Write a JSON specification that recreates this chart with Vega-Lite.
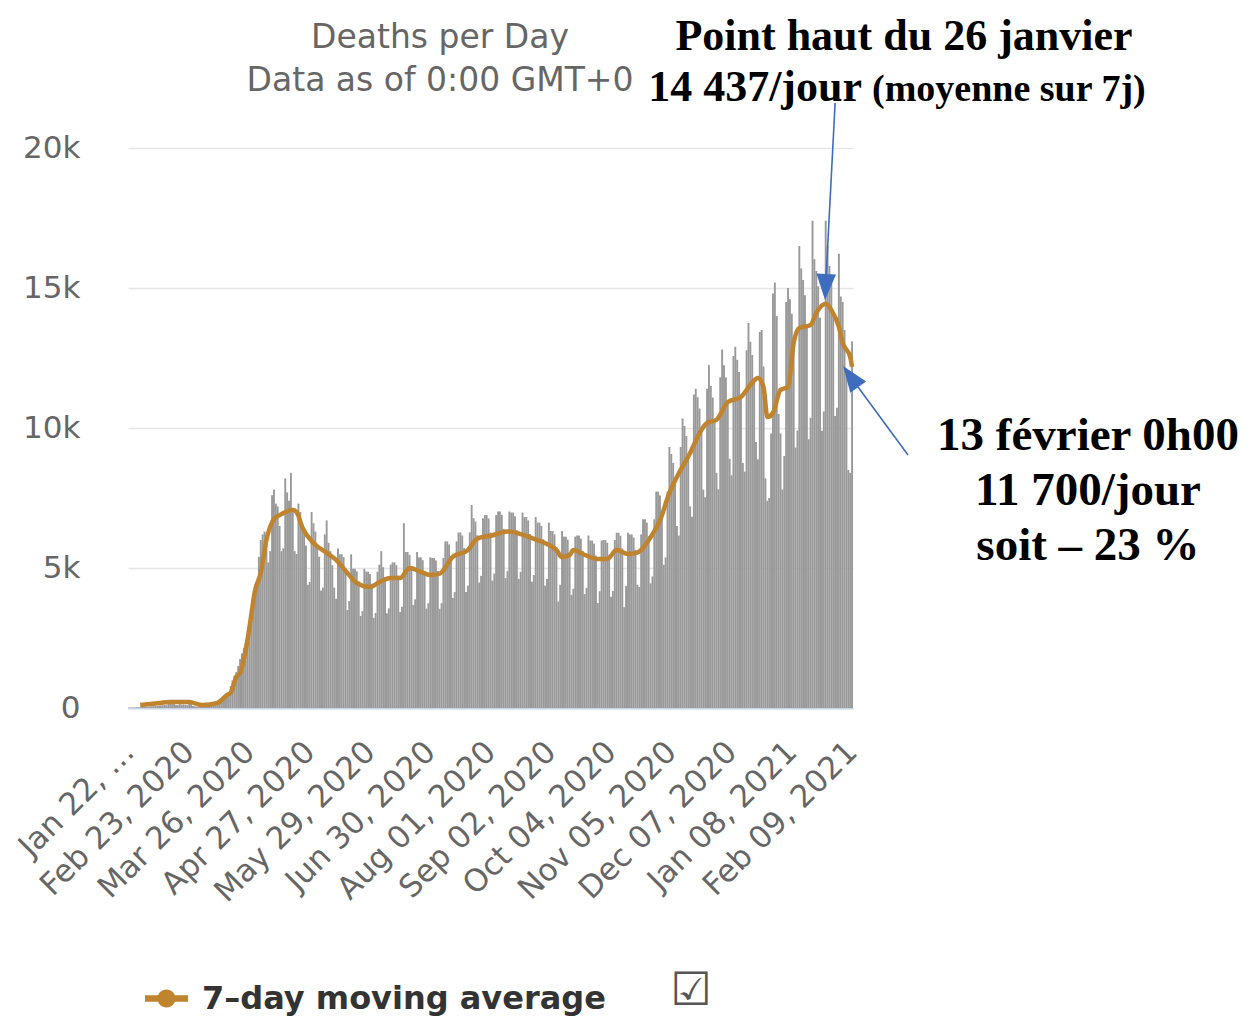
{
  "$schema": "https://vega.github.io/schema/vega-lite/v6.json",
  "width": 725,
  "height": 560,
  "autosize": {"type": "none"},
  "padding": {"left": 128, "top": 148, "right": 394, "bottom": 309},
  "background": "white",
  "datasets": {
    "daily": [
      {"date":"2020-01-22","deaths":17},{"date":"2020-01-23","deaths":8},{"date":"2020-01-24","deaths":16},{"date":"2020-01-25","deaths":14},{"date":"2020-01-26","deaths":26},{"date":"2020-01-27","deaths":26},{"date":"2020-01-28","deaths":26},{"date":"2020-01-29","deaths":38},{"date":"2020-01-30","deaths":43},{"date":"2020-01-31","deaths":46},
      {"date":"2020-02-01","deaths":45},{"date":"2020-02-02","deaths":57},{"date":"2020-02-03","deaths":64},{"date":"2020-02-04","deaths":66},{"date":"2020-02-05","deaths":73},{"date":"2020-02-06","deaths":73},{"date":"2020-02-07","deaths":86},{"date":"2020-02-08","deaths":89},{"date":"2020-02-09","deaths":97},{"date":"2020-02-10","deaths":108},{"date":"2020-02-11","deaths":97},{"date":"2020-02-12","deaths":254},{"date":"2020-02-13","deaths":143},{"date":"2020-02-14","deaths":143},{"date":"2020-02-15","deaths":142},{"date":"2020-02-16","deaths":106},{"date":"2020-02-17","deaths":98},{"date":"2020-02-18","deaths":139},{"date":"2020-02-19","deaths":115},{"date":"2020-02-20","deaths":125},{"date":"2020-02-21","deaths":112},{"date":"2020-02-22","deaths":99},{"date":"2020-02-23","deaths":160},{"date":"2020-02-24","deaths":152},{"date":"2020-02-25","deaths":71},{"date":"2020-02-26","deaths":62},{"date":"2020-02-27","deaths":44},{"date":"2020-02-28","deaths":57},{"date":"2020-02-29","deaths":65},
      {"date":"2020-03-01","deaths":52},{"date":"2020-03-02","deaths":51},{"date":"2020-03-03","deaths":78},{"date":"2020-03-04","deaths":110},{"date":"2020-03-05","deaths":120},{"date":"2020-03-06","deaths":140},{"date":"2020-03-07","deaths":150},{"date":"2020-03-08","deaths":170},{"date":"2020-03-09","deaths":200},{"date":"2020-03-10","deaths":280},{"date":"2020-03-11","deaths":340},{"date":"2020-03-12","deaths":380},{"date":"2020-03-13","deaths":430},{"date":"2020-03-14","deaths":500},{"date":"2020-03-15","deaths":560},{"date":"2020-03-16","deaths":780},{"date":"2020-03-17","deaths":980},{"date":"2020-03-18","deaths":1150},{"date":"2020-03-19","deaths":1280},{"date":"2020-03-20","deaths":1500},{"date":"2020-03-21","deaths":1750},{"date":"2020-03-22","deaths":1950},{"date":"2020-03-23","deaths":2150},{"date":"2020-03-24","deaths":2300},{"date":"2020-03-25","deaths":2600},{"date":"2020-03-26","deaths":2900},{"date":"2020-03-27","deaths":3300},{"date":"2020-03-28","deaths":3800},{"date":"2020-03-29","deaths":4000},{"date":"2020-03-30","deaths":4300},{"date":"2020-03-31","deaths":5400},
      {"date":"2020-04-01","deaths":6000},{"date":"2020-04-02","deaths":6200},{"date":"2020-04-03","deaths":6300},{"date":"2020-04-04","deaths":6200},{"date":"2020-04-05","deaths":5200},{"date":"2020-04-06","deaths":5600},{"date":"2020-04-07","deaths":7600},{"date":"2020-04-08","deaths":7800},{"date":"2020-04-09","deaths":7300},{"date":"2020-04-10","deaths":7200},{"date":"2020-04-11","deaths":6500},{"date":"2020-04-12","deaths":5600},{"date":"2020-04-13","deaths":5700},{"date":"2020-04-14","deaths":8200},{"date":"2020-04-15","deaths":7700},{"date":"2020-04-16","deaths":7400},{"date":"2020-04-17","deaths":8400},{"date":"2020-04-18","deaths":7000},{"date":"2020-04-19","deaths":5600},{"date":"2020-04-20","deaths":5500},{"date":"2020-04-21","deaths":7300},{"date":"2020-04-22","deaths":7000},{"date":"2020-04-23","deaths":6600},{"date":"2020-04-24","deaths":6300},{"date":"2020-04-25","deaths":5800},{"date":"2020-04-26","deaths":4400},{"date":"2020-04-27","deaths":4500},{"date":"2020-04-28","deaths":7000},{"date":"2020-04-29","deaths":6600},{"date":"2020-04-30","deaths":6300},
      {"date":"2020-05-01","deaths":5800},{"date":"2020-05-02","deaths":5400},{"date":"2020-05-03","deaths":4200},{"date":"2020-05-04","deaths":4300},{"date":"2020-05-05","deaths":6200},{"date":"2020-05-06","deaths":6700},{"date":"2020-05-07","deaths":5900},{"date":"2020-05-08","deaths":5600},{"date":"2020-05-09","deaths":5100},{"date":"2020-05-10","deaths":4300},{"date":"2020-05-11","deaths":3900},{"date":"2020-05-12","deaths":5700},{"date":"2020-05-13","deaths":5490},{"date":"2020-05-14","deaths":5490},{"date":"2020-05-15","deaths":5390},{"date":"2020-05-16","deaths":5000},{"date":"2020-05-17","deaths":3500},{"date":"2020-05-18","deaths":3820},{"date":"2020-05-19","deaths":5490},{"date":"2020-05-20","deaths":4970},{"date":"2020-05-21","deaths":4970},{"date":"2020-05-22","deaths":4880},{"date":"2020-05-23","deaths":4530},{"date":"2020-05-24","deaths":3290},{"date":"2020-05-25","deaths":3460},{"date":"2020-05-26","deaths":4970},{"date":"2020-05-27","deaths":4870},{"date":"2020-05-28","deaths":4870},{"date":"2020-05-29","deaths":4790},{"date":"2020-05-30","deaths":4440},{"date":"2020-05-31","deaths":3220},
      {"date":"2020-06-01","deaths":3390},{"date":"2020-06-02","deaths":4870},{"date":"2020-06-03","deaths":5120},{"date":"2020-06-04","deaths":5600},{"date":"2020-06-05","deaths":5030},{"date":"2020-06-06","deaths":4660},{"date":"2020-06-07","deaths":3380},{"date":"2020-06-08","deaths":3560},{"date":"2020-06-09","deaths":5120},{"date":"2020-06-10","deaths":5200},{"date":"2020-06-11","deaths":5200},{"date":"2020-06-12","deaths":5100},{"date":"2020-06-13","deaths":4730},{"date":"2020-06-14","deaths":3430},{"date":"2020-06-15","deaths":3620},{"date":"2020-06-16","deaths":6600},{"date":"2020-06-17","deaths":5570},{"date":"2020-06-18","deaths":5570},{"date":"2020-06-19","deaths":5470},{"date":"2020-06-20","deaths":5070},{"date":"2020-06-21","deaths":3680},{"date":"2020-06-22","deaths":3880},{"date":"2020-06-23","deaths":5570},{"date":"2020-06-24","deaths":5380},{"date":"2020-06-25","deaths":5380},{"date":"2020-06-26","deaths":5280},{"date":"2020-06-27","deaths":4900},{"date":"2020-06-28","deaths":3550},{"date":"2020-06-29","deaths":3740},{"date":"2020-06-30","deaths":5380},
      {"date":"2020-07-01","deaths":5360},{"date":"2020-07-02","deaths":5360},{"date":"2020-07-03","deaths":5270},{"date":"2020-07-04","deaths":4890},{"date":"2020-07-05","deaths":3540},{"date":"2020-07-06","deaths":3740},{"date":"2020-07-07","deaths":5360},{"date":"2020-07-08","deaths":5950},{"date":"2020-07-09","deaths":5950},{"date":"2020-07-10","deaths":5840},{"date":"2020-07-11","deaths":5420},{"date":"2020-07-12","deaths":3930},{"date":"2020-07-13","deaths":4140},{"date":"2020-07-14","deaths":5950},{"date":"2020-07-15","deaths":6270},{"date":"2020-07-16","deaths":6270},{"date":"2020-07-17","deaths":6160},{"date":"2020-07-18","deaths":5710},{"date":"2020-07-19","deaths":4140},{"date":"2020-07-20","deaths":4370},{"date":"2020-07-21","deaths":6270},{"date":"2020-07-22","deaths":7250},{"date":"2020-07-23","deaths":6780},{"date":"2020-07-24","deaths":6660},{"date":"2020-07-25","deaths":6170},{"date":"2020-07-26","deaths":4480},{"date":"2020-07-27","deaths":4720},{"date":"2020-07-28","deaths":6780},{"date":"2020-07-29","deaths":6890},{"date":"2020-07-30","deaths":6890},{"date":"2020-07-31","deaths":6770},
      {"date":"2020-08-01","deaths":6270},{"date":"2020-08-02","deaths":4550},{"date":"2020-08-03","deaths":4800},{"date":"2020-08-04","deaths":6890},{"date":"2020-08-05","deaths":7020},{"date":"2020-08-06","deaths":7020},{"date":"2020-08-07","deaths":6900},{"date":"2020-08-08","deaths":6400},{"date":"2020-08-09","deaths":4640},{"date":"2020-08-10","deaths":4890},{"date":"2020-08-11","deaths":7020},{"date":"2020-08-12","deaths":6980},{"date":"2020-08-13","deaths":6980},{"date":"2020-08-14","deaths":6850},{"date":"2020-08-15","deaths":6350},{"date":"2020-08-16","deaths":4610},{"date":"2020-08-17","deaths":4860},{"date":"2020-08-18","deaths":6980},{"date":"2020-08-19","deaths":6820},{"date":"2020-08-20","deaths":6820},{"date":"2020-08-21","deaths":6700},{"date":"2020-08-22","deaths":6210},{"date":"2020-08-23","deaths":4510},{"date":"2020-08-24","deaths":4750},{"date":"2020-08-25","deaths":6820},{"date":"2020-08-26","deaths":6620},{"date":"2020-08-27","deaths":6620},{"date":"2020-08-28","deaths":6500},{"date":"2020-08-29","deaths":6030},{"date":"2020-08-30","deaths":4370},{"date":"2020-08-31","deaths":4610},
      {"date":"2020-09-01","deaths":6620},{"date":"2020-09-02","deaths":6320},{"date":"2020-09-03","deaths":6320},{"date":"2020-09-04","deaths":6200},{"date":"2020-09-05","deaths":5750},{"date":"2020-09-06","deaths":3800},{"date":"2020-09-07","deaths":4400},{"date":"2020-09-08","deaths":6320},{"date":"2020-09-09","deaths":6120},{"date":"2020-09-10","deaths":6120},{"date":"2020-09-11","deaths":6010},{"date":"2020-09-12","deaths":5570},{"date":"2020-09-13","deaths":4040},{"date":"2020-09-14","deaths":4260},{"date":"2020-09-15","deaths":6120},{"date":"2020-09-16","deaths":6160},{"date":"2020-09-17","deaths":6160},{"date":"2020-09-18","deaths":6050},{"date":"2020-09-19","deaths":5610},{"date":"2020-09-20","deaths":4070},{"date":"2020-09-21","deaths":4290},{"date":"2020-09-22","deaths":6160},{"date":"2020-09-23","deaths":5980},{"date":"2020-09-24","deaths":5980},{"date":"2020-09-25","deaths":5870},{"date":"2020-09-26","deaths":5450},{"date":"2020-09-27","deaths":3750},{"date":"2020-09-28","deaths":4170},{"date":"2020-09-29","deaths":5980},{"date":"2020-09-30","deaths":6000},
      {"date":"2020-10-01","deaths":6000},{"date":"2020-10-02","deaths":5900},{"date":"2020-10-03","deaths":5470},{"date":"2020-10-04","deaths":3970},{"date":"2020-10-05","deaths":4180},{"date":"2020-10-06","deaths":6000},{"date":"2020-10-07","deaths":6260},{"date":"2020-10-08","deaths":6260},{"date":"2020-10-09","deaths":6150},{"date":"2020-10-10","deaths":5700},{"date":"2020-10-11","deaths":3600},{"date":"2020-10-12","deaths":4360},{"date":"2020-10-13","deaths":6260},{"date":"2020-10-14","deaths":6200},{"date":"2020-10-15","deaths":6200},{"date":"2020-10-16","deaths":6090},{"date":"2020-10-17","deaths":5650},{"date":"2020-10-18","deaths":4400},{"date":"2020-10-19","deaths":4320},{"date":"2020-10-20","deaths":6200},{"date":"2020-10-21","deaths":6740},{"date":"2020-10-22","deaths":6740},{"date":"2020-10-23","deaths":6620},{"date":"2020-10-24","deaths":6140},{"date":"2020-10-25","deaths":4450},{"date":"2020-10-26","deaths":4700},{"date":"2020-10-27","deaths":6740},{"date":"2020-10-28","deaths":7730},{"date":"2020-10-29","deaths":7730},{"date":"2020-10-30","deaths":7590},{"date":"2020-10-31","deaths":7040},
      {"date":"2020-11-01","deaths":5110},{"date":"2020-11-02","deaths":5380},{"date":"2020-11-03","deaths":7730},{"date":"2020-11-04","deaths":9320},{"date":"2020-11-05","deaths":9070},{"date":"2020-11-06","deaths":8750},{"date":"2020-11-07","deaths":8100},{"date":"2020-11-08","deaths":6500},{"date":"2020-11-09","deaths":6160},{"date":"2020-11-10","deaths":9320},{"date":"2020-11-11","deaths":10340},{"date":"2020-11-12","deaths":10070},{"date":"2020-11-13","deaths":9710},{"date":"2020-11-14","deaths":8990},{"date":"2020-11-15","deaths":7200},{"date":"2020-11-16","deaths":6830},{"date":"2020-11-17","deaths":11200},{"date":"2020-11-18","deaths":11400},{"date":"2020-11-19","deaths":11100},{"date":"2020-11-20","deaths":10700},{"date":"2020-11-21","deaths":9910},{"date":"2020-11-22","deaths":7800},{"date":"2020-11-23","deaths":7530},{"date":"2020-11-24","deaths":11400},{"date":"2020-11-25","deaths":12250},{"date":"2020-11-26","deaths":11500},{"date":"2020-11-27","deaths":11090},{"date":"2020-11-28","deaths":10270},{"date":"2020-11-29","deaths":8400},{"date":"2020-11-30","deaths":7810},
      {"date":"2020-12-01","deaths":11810},{"date":"2020-12-02","deaths":12800},{"date":"2020-12-03","deaths":12240},{"date":"2020-12-04","deaths":11800},{"date":"2020-12-05","deaths":10930},{"date":"2020-12-06","deaths":8900},{"date":"2020-12-07","deaths":8310},{"date":"2020-12-08","deaths":12570},{"date":"2020-12-09","deaths":12900},{"date":"2020-12-10","deaths":12440},{"date":"2020-12-11","deaths":12000},{"date":"2020-12-12","deaths":11110},{"date":"2020-12-13","deaths":8750},{"date":"2020-12-14","deaths":8440},{"date":"2020-12-15","deaths":12780},{"date":"2020-12-16","deaths":13750},{"date":"2020-12-17","deaths":13080},{"date":"2020-12-18","deaths":12610},{"date":"2020-12-19","deaths":11680},{"date":"2020-12-20","deaths":9500},{"date":"2020-12-21","deaths":8880},{"date":"2020-12-22","deaths":13430},{"date":"2020-12-23","deaths":13500},{"date":"2020-12-24","deaths":12200},{"date":"2020-12-25","deaths":8200},{"date":"2020-12-26","deaths":7400},{"date":"2020-12-27","deaths":7500},{"date":"2020-12-28","deaths":9800},{"date":"2020-12-29","deaths":14800},{"date":"2020-12-30","deaths":15200},{"date":"2020-12-31","deaths":14000},
      {"date":"2021-01-01","deaths":10500},{"date":"2021-01-02","deaths":9800},{"date":"2021-01-03","deaths":7800},{"date":"2021-01-04","deaths":9000},{"date":"2021-01-05","deaths":14500},{"date":"2021-01-06","deaths":15000},{"date":"2021-01-07","deaths":14600},{"date":"2021-01-08","deaths":14080},{"date":"2021-01-09","deaths":13040},{"date":"2021-01-10","deaths":9300},{"date":"2021-01-11","deaths":9910},{"date":"2021-01-12","deaths":16500},{"date":"2021-01-13","deaths":15700},{"date":"2021-01-14","deaths":15290},{"date":"2021-01-15","deaths":14740},{"date":"2021-01-16","deaths":13650},{"date":"2021-01-17","deaths":9600},{"date":"2021-01-18","deaths":10370},{"date":"2021-01-19","deaths":17400},{"date":"2021-01-20","deaths":16030},{"date":"2021-01-21","deaths":15610},{"date":"2021-01-22","deaths":15060},{"date":"2021-01-23","deaths":13940},{"date":"2021-01-24","deaths":9900},{"date":"2021-01-25","deaths":10590},{"date":"2021-01-26","deaths":17400},{"date":"2021-01-27","deaths":16500},{"date":"2021-01-28","deaths":15790},{"date":"2021-01-29","deaths":15230},{"date":"2021-01-30","deaths":14100},{"date":"2021-01-31","deaths":10430},
      {"date":"2021-02-01","deaths":10720},{"date":"2021-02-02","deaths":16220},{"date":"2021-02-03","deaths":14700},{"date":"2021-02-04","deaths":14500},{"date":"2021-02-05","deaths":13500},{"date":"2021-02-06","deaths":12000},{"date":"2021-02-07","deaths":8500},{"date":"2021-02-08","deaths":8400},{"date":"2021-02-09","deaths":13100}
    ],
    "avg": [
      {"date":"2020-01-28","avg":110},{"date":"2020-02-05","avg":160},{"date":"2020-02-13","avg":210},{"date":"2020-02-23","avg":210},{"date":"2020-03-01","avg":110},{"date":"2020-03-09","avg":180},{"date":"2020-03-14","avg":460},{"date":"2020-03-16","avg":540},{"date":"2020-03-19","avg":1110},{"date":"2020-03-21","avg":1250},{"date":"2020-03-24","avg":2070},{"date":"2020-03-26","avg":2890},{"date":"2020-03-29","avg":4210},{"date":"2020-04-01","avg":4820},{"date":"2020-04-04","avg":6000},{"date":"2020-04-08","avg":6750},{"date":"2020-04-11","avg":6890},{"date":"2020-04-18","avg":7070},{"date":"2020-04-20","avg":7000},{"date":"2020-04-23","avg":6460},{"date":"2020-04-29","avg":5890},{"date":"2020-05-06","avg":5540},{"date":"2020-05-11","avg":5290},{"date":"2020-05-17","avg":4820},{"date":"2020-05-22","avg":4460},{"date":"2020-05-29","avg":4320},{"date":"2020-06-03","avg":4500},{"date":"2020-06-09","avg":4640},{"date":"2020-06-14","avg":4640},{"date":"2020-06-19","avg":5000},{"date":"2020-06-25","avg":4860},{"date":"2020-06-30","avg":4750},{"date":"2020-07-05","avg":4800},{"date":"2020-07-12","avg":5400},{"date":"2020-07-20","avg":5640},{"date":"2020-07-25","avg":6050},{"date":"2020-08-01","avg":6150},{"date":"2020-08-10","avg":6300},{"date":"2020-08-17","avg":6210},{"date":"2020-08-24","avg":6040},{"date":"2020-08-31","avg":5860},{"date":"2020-09-05","avg":5640},{"date":"2020-09-08","avg":5390},{"date":"2020-09-12","avg":5460},{"date":"2020-09-14","avg":5640},{"date":"2020-09-19","avg":5500},{"date":"2020-09-27","avg":5320},{"date":"2020-10-02","avg":5320},{"date":"2020-10-07","avg":5640},{"date":"2020-10-13","avg":5500},{"date":"2020-10-18","avg":5550},{"date":"2020-10-25","avg":6100},{"date":"2020-10-30","avg":6700},{"date":"2020-11-04","avg":7680},{"date":"2020-11-08","avg":8250},{"date":"2020-11-15","avg":9110},{"date":"2020-11-20","avg":9820},{"date":"2020-11-24","avg":10180},{"date":"2020-11-29","avg":10290},{"date":"2020-12-05","avg":10930},{"date":"2020-12-12","avg":11110},{"date":"2020-12-17","avg":11540},{"date":"2020-12-21","avg":11790},{"date":"2020-12-24","avg":11460},{"date":"2020-12-26","avg":10390},{"date":"2020-12-29","avg":10540},{"date":"2021-01-02","avg":11360},{"date":"2021-01-06","avg":11460},{"date":"2021-01-09","avg":13040},{"date":"2021-01-12","avg":13570},{"date":"2021-01-18","avg":13680},{"date":"2021-01-21","avg":14110},{"date":"2021-01-26","avg":14440},{"date":"2021-01-29","avg":14210},{"date":"2021-02-02","avg":13610},{"date":"2021-02-04","avg":13040},{"date":"2021-02-08","avg":12540},{"date":"2021-02-09","avg":12180}
    ]
  },
  "layer": [
    {
      "data": {"name": "daily"},
      "mark": {"type": "bar", "width": 1.9, "color": "#999999"},
      "encoding": {
        "x": {
          "field": "date", "type": "temporal",
          "scale": {"type": "utc", "nice": false, "padding": 0, "domain": [{"year": 2020, "month": 1, "date": 21, "hours": 12, "utc": true}, {"year": 2021, "month": 2, "date": 9, "hours": 12, "utc": true}]},
          "axis": {
            "title": null,
            "values": [
              {"year": 2020, "month": 1, "date": 22, "utc": true},
              {"year": 2020, "month": 2, "date": 23, "utc": true},
              {"year": 2020, "month": 3, "date": 26, "utc": true},
              {"year": 2020, "month": 4, "date": 27, "utc": true},
              {"year": 2020, "month": 5, "date": 29, "utc": true},
              {"year": 2020, "month": 6, "date": 30, "utc": true},
              {"year": 2020, "month": 8, "date": 1, "utc": true},
              {"year": 2020, "month": 9, "date": 2, "utc": true},
              {"year": 2020, "month": 10, "date": 4, "utc": true},
              {"year": 2020, "month": 11, "date": 5, "utc": true},
              {"year": 2020, "month": 12, "date": 7, "utc": true},
              {"year": 2021, "month": 1, "date": 8, "utc": true},
              {"year": 2021, "month": 2, "date": 9, "utc": true}
            ],
            "labelExpr": "utcFormat(datum.value, '%b %d, %Y') == 'Jan 22, 2020' ? 'Jan 22, …' : utcFormat(datum.value, '%b %d, %Y')",
            "labelAngle": -45,
            "labelAlign": "right",
            "labelBaseline": "middle",
            "labelFont": "DejaVu Sans",
            "labelFontSize": 31,
            "labelColor": "#666666",
            "labelPadding": 39,
            "labelLimit": 500,
            "labelOverlap": false,
            "labelBound": false,
            "labelFlush": false,
            "ticks": false,
            "grid": false,
            "domainColor": "#ccd6eb",
            "domainWidth": 2
          }
        },
        "y": {
          "field": "deaths", "type": "quantitative",
          "scale": {"domain": [0, 20000], "nice": false},
          "axis": {
            "title": null,
            "values": [0, 5000, 10000, 15000, 20000],
            "labelExpr": "datum.value == 0 ? '0' : (datum.value / 1000) + 'k'",
            "labelFont": "DejaVu Sans",
            "labelFontSize": 31,
            "labelColor": "#666666",
            "labelPadding": 48,
            "ticks": false,
            "domain": false,
            "grid": true,
            "gridColor": "#e6e6e6",
            "gridWidth": 1.5
          }
        }
      }
    },
    {
      "data": {"name": "avg"},
      "mark": {"type": "line", "strokeWidth": 4.5, "interpolate": "monotone"},
      "encoding": {
        "x": {"field": "date", "type": "temporal"},
        "y": {"field": "avg", "type": "quantitative"},
        "color": {
          "datum": "7–day moving average",
          "scale": {"range": ["#c0832e"]},
          "legend": {
            "title": null,
            "orient": "none",
            "legendX": 17,
            "legendY": 829,
            "labelFont": "DejaVu Sans",
            "labelFontSize": 32,
            "labelFontWeight": "bold",
            "labelColor": "#333333",
            "labelLimit": 800,
            "labelOffset": 14,
            "symbolType": "M-1,-0.15L-0.35,-0.15L-0.35,0.15L-1,0.15Z M0.35,-0.15L1,-0.15L1,0.15L0.35,0.15Z M-0.42,0A0.42,0.42 0 1,1 0.42,0A0.42,0.42 0 1,1 -0.42,0Z",
            "symbolSize": 1849,
            "symbolStrokeWidth": 0,
            "encode": {"symbols": {"update": {"fill": {"value": "#c0832e"}, "stroke": {"value": "transparent"}}}}
          }
        }
      }
    },
    {
      "data": {"values": [{}]},
      "mark": {"type": "text", "text": ["Deaths per Day", "Data as of 0:00 GMT+0"], "lineHeight": 43, "font": "DejaVu Sans", "fontSize": 33, "color": "#666666", "align": "center", "baseline": "alphabetic"},
      "encoding": {
        "x": {"datum": {"year": 2020, "month": 7, "date": 5, "hours": 5, "utc": true}, "type": "temporal"},
        "y": {"datum": 23571, "type": "quantitative"}
      }
    },
    {
      "data": {"values": [{}]},
      "mark": {"type": "text", "text": "☑", "font": "DejaVu Sans", "fontSize": 46, "color": "#555555", "align": "center", "baseline": "middle"},
      "encoding": {
        "x": {"datum": {"year": 2020, "month": 11, "date": 15, "hours": 12, "utc": true}, "type": "temporal"},
        "y": {"datum": -10100, "type": "quantitative"}
      }
    },
    {
      "data": {"values": [{}]},
      "mark": {"type": "rule", "color": "#3e6dbf", "strokeWidth": 1.6},
      "encoding": {
        "x": {"datum": {"year": 2021, "month": 1, "date": 31, "utc": true}, "type": "temporal"},
        "y": {"datum": 21607, "type": "quantitative"},
        "x2": {"datum": {"year": 2021, "month": 1, "date": 26, "hours": 7, "utc": true}},
        "y2": {"datum": 15500}
      }
    },
    {
      "data": {"values": [{}]},
      "mark": {"type": "point", "shape": "M0,1L-0.75,-1L0.75,-1Z", "filled": true, "opacity": 1, "size": 676, "color": "#3e6dbf", "angle": 2.6},
      "encoding": {
        "x": {"datum": {"year": 2021, "month": 1, "date": 25, "hours": 23, "utc": true}, "type": "temporal"},
        "y": {"datum": 15036, "type": "quantitative"}
      }
    },
    {
      "data": {"values": [{}]},
      "mark": {"type": "rule", "color": "#3e6dbf", "strokeWidth": 1.6},
      "encoding": {
        "x": {"datum": {"year": 2021, "month": 3, "date": 10, "hours": 17, "utc": true}, "type": "temporal"},
        "y": {"datum": 9036, "type": "quantitative"},
        "x2": {"datum": {"year": 2021, "month": 2, "date": 12, "hours": 4, "utc": true}},
        "y2": {"datum": 11464}
      }
    },
    {
      "data": {"values": [{}]},
      "mark": {"type": "point", "shape": "M0,1L-0.75,-1L0.75,-1Z", "filled": true, "opacity": 1, "size": 676, "color": "#3e6dbf", "angle": 144.4},
      "encoding": {
        "x": {"datum": {"year": 2021, "month": 2, "date": 8, "hours": 6, "utc": true}, "type": "temporal"},
        "y": {"datum": 11836, "type": "quantitative"}
      }
    },
    {
      "data": {"values": [{}]},
      "mark": {"type": "text", "text": "Point haut du 26 janvier", "font": "Liberation Serif", "fontWeight": "bold", "fontSize": 44, "color": "#000000", "align": "center", "baseline": "alphabetic"},
      "encoding": {
        "x": {"datum": {"year": 2021, "month": 3, "date": 8, "hours": 14, "utc": true}, "type": "temporal"},
        "y": {"datum": 23500, "type": "quantitative"}
      }
    },
    {
      "data": {"values": [{}]},
      "mark": {"type": "text", "text": "14 437/jour", "font": "Liberation Serif", "fontWeight": "bold", "fontSize": 44, "color": "#000000", "align": "right", "baseline": "alphabetic"},
      "encoding": {
        "x": {"datum": {"year": 2021, "month": 2, "date": 14, "hours": 7, "utc": true}, "type": "temporal"},
        "y": {"datum": 21679, "type": "quantitative"}
      }
    },
    {
      "data": {"values": [{}]},
      "mark": {"type": "text", "text": "(moyenne sur 7j)", "font": "Liberation Serif", "fontWeight": "bold", "fontSize": 38, "color": "#000000", "align": "left", "baseline": "alphabetic"},
      "encoding": {
        "x": {"datum": {"year": 2021, "month": 2, "date": 19, "hours": 14, "utc": true}, "type": "temporal"},
        "y": {"datum": 21679, "type": "quantitative"}
      }
    },
    {
      "data": {"values": [{}]},
      "mark": {"type": "text", "text": ["13 février 0h00", "11 700/jour", "soit – 23 %"], "lineHeight": 55, "font": "Liberation Serif", "fontWeight": "bold", "fontSize": 47, "color": "#000000", "align": "center", "baseline": "alphabetic"},
      "encoding": {
        "x": {"datum": {"year": 2021, "month": 6, "date": 14, "hours": 7, "utc": true}, "type": "temporal"},
        "y": {"datum": 9214, "type": "quantitative"}
      }
    }
  ],
  "config": {
    "view": {"stroke": null},
    "font": "DejaVu Sans"
  }
}
